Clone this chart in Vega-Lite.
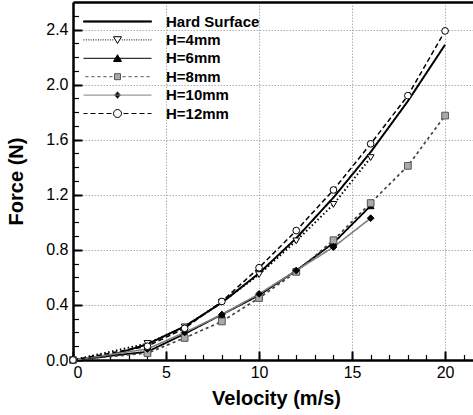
{
  "$schema": "https://vega.github.io/schema/vega-lite/v6.json",
  "width": 400,
  "height": 358,
  "autosize": {"type": "none"},
  "padding": {"left": 73, "top": 2, "right": 0, "bottom": 55},
  "config": {
    "view": {"stroke": null},
    "axis": {"labelFont": "Liberation Sans", "titleFont": "Liberation Sans", "labelColor": "black", "titleColor": "black"},
    "legend": {"labelFont": "Liberation Sans"}
  },
  "data": {
    "values": [
      {"series": "Hard Surface", "v": 0, "F": 0},
      {"series": "Hard Surface", "v": 2, "F": 0.032},
      {"series": "Hard Surface", "v": 4, "F": 0.115},
      {"series": "Hard Surface", "v": 6, "F": 0.244},
      {"series": "Hard Surface", "v": 8, "F": 0.416},
      {"series": "Hard Surface", "v": 10, "F": 0.63},
      {"series": "Hard Surface", "v": 12, "F": 0.885},
      {"series": "Hard Surface", "v": 14, "F": 1.18},
      {"series": "Hard Surface", "v": 16, "F": 1.51},
      {"series": "Hard Surface", "v": 18, "F": 1.88},
      {"series": "Hard Surface", "v": 20, "F": 2.29},
      {"series": "H=4mm", "v": 0, "F": 0},
      {"series": "H=4mm", "v": 4, "F": 0.12},
      {"series": "H=4mm", "v": 6, "F": 0.24},
      {"series": "H=4mm", "v": 8, "F": 0.42},
      {"series": "H=4mm", "v": 10, "F": 0.62},
      {"series": "H=4mm", "v": 12, "F": 0.865},
      {"series": "H=4mm", "v": 14, "F": 1.13},
      {"series": "H=4mm", "v": 16, "F": 1.47},
      {"series": "H=6mm", "v": 0, "F": 0},
      {"series": "H=6mm", "v": 4, "F": 0.06},
      {"series": "H=6mm", "v": 6, "F": 0.19},
      {"series": "H=6mm", "v": 8, "F": 0.33},
      {"series": "H=6mm", "v": 10, "F": 0.47},
      {"series": "H=6mm", "v": 12, "F": 0.65},
      {"series": "H=6mm", "v": 14, "F": 0.85},
      {"series": "H=6mm", "v": 16, "F": 1.12},
      {"series": "H=8mm", "v": 0, "F": 0},
      {"series": "H=8mm", "v": 4, "F": 0.05},
      {"series": "H=8mm", "v": 6, "F": 0.16},
      {"series": "H=8mm", "v": 8, "F": 0.28},
      {"series": "H=8mm", "v": 10, "F": 0.45},
      {"series": "H=8mm", "v": 12, "F": 0.64},
      {"series": "H=8mm", "v": 14, "F": 0.87},
      {"series": "H=8mm", "v": 16, "F": 1.14},
      {"series": "H=8mm", "v": 18, "F": 1.41},
      {"series": "H=8mm", "v": 20, "F": 1.775},
      {"series": "H=10mm", "v": 0, "F": 0},
      {"series": "H=10mm", "v": 4, "F": 0.08},
      {"series": "H=10mm", "v": 6, "F": 0.2},
      {"series": "H=10mm", "v": 8, "F": 0.33},
      {"series": "H=10mm", "v": 10, "F": 0.48},
      {"series": "H=10mm", "v": 12, "F": 0.65},
      {"series": "H=10mm", "v": 14, "F": 0.82},
      {"series": "H=10mm", "v": 16, "F": 1.03},
      {"series": "H=12mm", "v": 0, "F": 0},
      {"series": "H=12mm", "v": 4, "F": 0.1},
      {"series": "H=12mm", "v": 6, "F": 0.23},
      {"series": "H=12mm", "v": 8, "F": 0.425},
      {"series": "H=12mm", "v": 10, "F": 0.67},
      {"series": "H=12mm", "v": 12, "F": 0.94},
      {"series": "H=12mm", "v": 14, "F": 1.235},
      {"series": "H=12mm", "v": 16, "F": 1.57},
      {"series": "H=12mm", "v": 18, "F": 1.92},
      {"series": "H=12mm", "v": 20, "F": 2.39}
    ]
  },
  "layer": [
    {
      "mark": {"type": "line"},
      "encoding": {
        "x": {
          "field": "v", "type": "quantitative",
          "scale": {"domain": [0, 21.5], "nice": false},
          "axis": {
            "orient": "bottom", "values": [0, 5, 10, 15, 20],
            "domain": true, "domainColor": "black", "domainWidth": 2.5,
            "ticks": false,
            "labelFontSize": 16, "labelPadding": 4,
            "grid": true, "gridColor": "#b0b0b0", "gridDash": [1.5, 1.5], "gridWidth": 1,
            "title": "Velocity (m/s)", "titleFontSize": 20, "titleFontWeight": "bold", "titlePadding": 8, "titleX": 203
          }
        },
        "y": {
          "field": "F", "type": "quantitative",
          "scale": {"domain": [0, 2.6], "nice": false},
          "axis": {
            "orient": "left", "values": [0, 0.4, 0.8, 1.2, 1.6, 2, 2.4],
            "domain": true, "domainColor": "black", "domainWidth": 2.5,
            "ticks": false,
            "labelFontSize": 16, "labelPadding": 5,
            "grid": true, "gridColor": "#b0b0b0", "gridDash": [1.5, 1.5], "gridWidth": 1,
            "title": "Force (N)", "titleFontSize": 20, "titleFontWeight": "bold", "titlePadding": 19
          }
        },
        "detail": {"field": "series"},
        "color": {
          "field": "series", "type": "nominal", "legend": null,
          "scale": {"domain": ["Hard Surface", "H=4mm", "H=6mm", "H=8mm", "H=10mm", "H=12mm"],
                    "range": ["black", "black", "black", "#444444", "#808080", "black"]}
        },
        "strokeDash": {
          "field": "series", "type": "nominal", "legend": null,
          "scale": {"domain": ["Hard Surface", "H=4mm", "H=6mm", "H=8mm", "H=10mm", "H=12mm"],
                    "range": [[1, 0], [1.5, 2.5], [1, 0], [3, 3], [1, 0], [5, 3]]}
        },
        "strokeWidth": {
          "field": "series", "type": "nominal", "legend": null,
          "scale": {"domain": ["Hard Surface", "H=4mm", "H=6mm", "H=8mm", "H=10mm", "H=12mm"],
                    "range": [2, 1.5, 1, 1, 1.2, 1]}
        }
      }
    },
    {
      "transform": [{"filter": "datum.series != 'Hard Surface'"}],
      "mark": {"type": "point", "size": 45, "strokeWidth": 1, "opacity": 1},
      "encoding": {
        "x": {
          "field": "v", "type": "quantitative",
          "axis": {
            "orient": "bottom", "offset": -5.5, "values": [0, 1, 2, 3, 4, 5, 6, 7, 8, 9, 10, 11, 12, 13, 14, 15, 16, 17, 18, 19, 20, 21],
            "domain": false, "grid": false, "labels": false, "title": null,
            "ticks": true, "tickSize": 5.5, "tickWidth": 1.2, "tickColor": "black"
          }
        },
        "y": {
          "field": "F", "type": "quantitative",
          "axis": {
            "orient": "left", "offset": -5.5, "values": [0, 0.1, 0.2, 0.3, 0.4, 0.5, 0.6, 0.7, 0.8, 0.9, 1, 1.1, 1.2, 1.3, 1.4, 1.5, 1.6, 1.7, 1.8, 1.9, 2, 2.1, 2.2, 2.3, 2.4, 2.5],
            "domain": false, "grid": false, "labels": false, "title": null,
            "ticks": true, "tickSize": 5.5, "tickWidth": 1.2, "tickColor": "black"
          }
        },
        "shape": {
          "field": "series", "type": "nominal", "legend": null,
          "scale": {"domain": ["H=4mm", "H=6mm", "H=8mm", "H=10mm", "H=12mm"],
                    "range": ["triangle-down", "triangle-up", "square", "diamond", "circle"]}
        },
        "fill": {
          "field": "series", "type": "nominal", "legend": null,
          "scale": {"domain": ["H=4mm", "H=6mm", "H=8mm", "H=10mm", "H=12mm"],
                    "range": ["white", "black", "#aaaaaa", "black", "white"]}
        },
        "stroke": {
          "field": "series", "type": "nominal", "legend": null,
          "scale": {"domain": ["H=4mm", "H=6mm", "H=8mm", "H=10mm", "H=12mm"],
                    "range": ["black", "black", "#555555", "black", "black"]}
        }
      }
    },
    {
      "mark": {"type": "point", "opacity": 0},
      "encoding": {
        "x": {
          "field": "v", "type": "quantitative",
          "axis": {
            "orient": "bottom", "offset": -9, "values": [0, 5, 10, 15, 20],
            "domain": false, "grid": false, "labels": false, "title": null,
            "ticks": true, "tickSize": 9, "tickWidth": 2, "tickColor": "black"
          }
        },
        "y": {
          "field": "F", "type": "quantitative",
          "axis": {
            "orient": "left", "offset": -9, "values": [0, 0.4, 0.8, 1.2, 1.6, 2, 2.4],
            "domain": false, "grid": false, "labels": false, "title": null,
            "ticks": true, "tickSize": 9, "tickWidth": 2, "tickColor": "black"
          }
        }
      }
    },
    {
      "mark": {"type": "point", "opacity": 0},
      "encoding": {
        "x": {
          "field": "v", "type": "quantitative",
          "axis": {"orient": "top", "domain": true, "domainColor": "black", "domainWidth": 2.5,
                   "ticks": false, "labels": false, "grid": false, "title": null}
        },
        "y": {"field": "F", "type": "quantitative", "axis": null},
        "shape": {
          "field": "series", "type": "nominal",
          "scale": {"domain": ["Hard Surface", "H=4mm", "H=6mm", "H=8mm", "H=10mm", "H=12mm"],
                    "range": [
                      "M-8.5,-0.15H8.5V0.15H-8.5Z",
                      "M-8.5,0h0.25M-7.9,0h0.25M-7.3,0h0.25M-6.7,0h0.25M-6.1,0h0.25M-5.5,0h0.25M-4.9,0h0.25M-4.3,0h0.25M-3.7,0h0.25M-3.1,0h0.25M-2.5,0h0.25M-1.9,0h0.25M-1.3,0h0.25M1.05,0h0.25M1.65,0h0.25M2.25,0h0.25M2.85,0h0.25M3.45,0h0.25M4.05,0h0.25M4.65,0h0.25M5.25,0h0.25M5.85,0h0.25M6.45,0h0.25M7.05,0h0.25M7.65,0h0.25M8.25,0h0.25M-1,-0.8L1,-0.8L0,0.9Z",
                      "M-8.5,0H8.5M-1,0.8L1,0.8L0,-0.9Z",
                      "M-8.05,0H-7.25M-6.55,0H-5.75M-5.05,0H-4.25M-3.55,0H-2.75M-2.05,0H-1.25M1.25,0H2.05M2.75,0H3.55M4.25,0H5.05M5.75,0H6.55M7.25,0H8.05M-0.75,-0.75H0.75V0.75H-0.75Z",
                      "M-8.5,0H8.5M0,-0.9L0.75,0L0,0.9L-0.75,0Z",
                      "M-8.5,0H-7.5M-6.75,0H-5.5M-4.75,0H-3.5M-2.75,0H-1.5M1.5,0H2.75M3.5,0H4.75M5.5,0H6.75M7.5,0H8.5M-1,0A1,1,0,1,1,1,0A1,1,0,1,1,-1,0Z"
                    ]},
          "legend": {
            "title": null, "orient": "none", "legendX": 37, "legendY": 12,
            "symbolSize": 64, "symbolStrokeWidth": 1, "symbolOpacity": 1,
            "labelFontSize": 15, "labelFontWeight": "bold", "labelColor": "black",
            "labelOffset": 41, "rowPadding": 2.4, "padding": 0, "labelLimit": 300
          }
        },
        "fill": {
          "field": "series", "type": "nominal",
          "scale": {"domain": ["Hard Surface", "H=4mm", "H=6mm", "H=8mm", "H=10mm", "H=12mm"],
                    "range": ["black", "white", "black", "#aaaaaa", "black", "white"]}
        },
        "stroke": {
          "field": "series", "type": "nominal",
          "scale": {"domain": ["Hard Surface", "H=4mm", "H=6mm", "H=8mm", "H=10mm", "H=12mm"],
                    "range": ["black", "black", "black", "#555555", "#808080", "black"]}
        }
      }
    }
  ],
  "resolve": {
    "scale": {"shape": "independent", "fill": "independent", "stroke": "independent"},
    "axis": {"x": "independent", "y": "independent"}
  }
}
